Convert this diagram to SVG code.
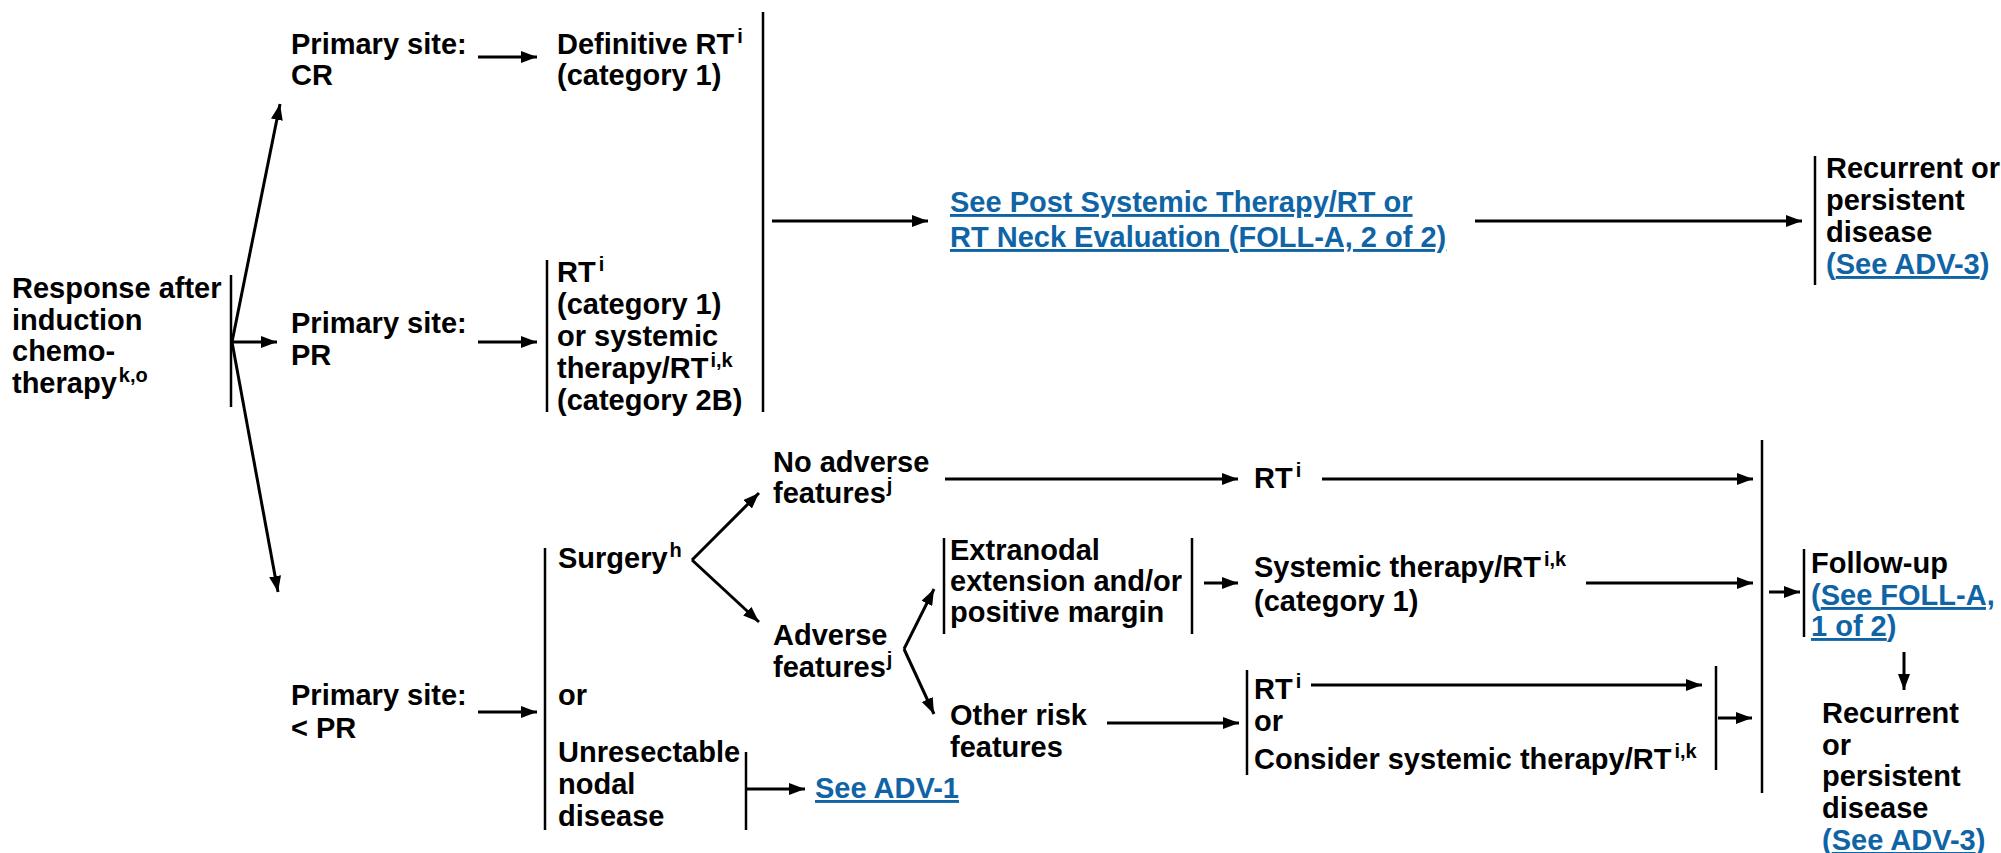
<svg xmlns="http://www.w3.org/2000/svg" width="2001" height="853" viewBox="0 0 2001 853">
  <style>
    .t { font-family: "Liberation Sans", Arial, Helvetica, sans-serif; font-weight: bold; font-size: 29px; fill: #000; }
    .lnk { fill: #0f64a6; }
    .u { text-decoration: underline; }
    .sup { font-size: 20px; }
    .bar { stroke: #000; stroke-width: 2.5; fill: none; }
    .arr { stroke: #000; stroke-width: 3; fill: none; marker-end: url(#head); }
  </style>
  <defs>
    <marker id="head" viewBox="0 0 16 12" markerWidth="16" markerHeight="12" refX="16" refY="6" orient="auto" markerUnits="userSpaceOnUse">
      <path d="M0,0 L16,6 L0,12 z" fill="#000"/>
    </marker>
  </defs>
  <rect width="2001" height="853" fill="#fff"/>

  <!-- bracket bars -->
  <g id="bars">
    <line class="bar" x1="231" y1="275" x2="231" y2="407"/>
    <line class="bar" x1="547" y1="260" x2="547" y2="412"/>
    <line class="bar" x1="763" y1="12" x2="763" y2="412"/>
    <line class="bar" x1="1815" y1="156" x2="1815" y2="285"/>
    <line class="bar" x1="545" y1="548" x2="545" y2="830"/>
    <line class="bar" x1="746" y1="752" x2="746" y2="830"/>
    <line class="bar" x1="944" y1="538" x2="944" y2="634"/>
    <line class="bar" x1="1192" y1="538" x2="1192" y2="634"/>
    <line class="bar" x1="1247" y1="670" x2="1247" y2="775"/>
    <line class="bar" x1="1716" y1="666" x2="1716" y2="770"/>
    <line class="bar" x1="1762" y1="440" x2="1762" y2="793"/>
    <line class="bar" x1="1804" y1="549" x2="1804" y2="637"/>
  </g>

  <!-- connectors -->
  <g id="connectors">
    <line class="arr" x1="232" y1="342" x2="280" y2="104"/>
    <line class="arr" x1="232" y1="342" x2="277" y2="342"/>
    <line class="arr" x1="232" y1="342" x2="278" y2="592"/>
    <line class="arr" x1="478" y1="57" x2="537" y2="57"/>
    <line class="arr" x1="478" y1="342" x2="537" y2="342"/>
    <line class="arr" x1="772" y1="221" x2="928" y2="221"/>
    <line class="arr" x1="1475" y1="221" x2="1802" y2="221"/>
    <line class="arr" x1="478" y1="712" x2="537" y2="712"/>
    <line class="arr" x1="692" y1="560" x2="759" y2="493"/>
    <line class="arr" x1="692" y1="560" x2="759" y2="622"/>
    <line class="arr" x1="945" y1="479" x2="1238" y2="479"/>
    <line class="arr" x1="1322" y1="479" x2="1753" y2="479"/>
    <line class="arr" x1="904" y1="649" x2="934" y2="589"/>
    <line class="arr" x1="904" y1="649" x2="934" y2="714"/>
    <line class="arr" x1="1204" y1="583" x2="1238" y2="583"/>
    <line class="arr" x1="1586" y1="583" x2="1753" y2="583"/>
    <line class="arr" x1="1107" y1="723" x2="1239" y2="723"/>
    <line class="arr" x1="1311" y1="685" x2="1702" y2="685"/>
    <line class="arr" x1="1718" y1="718" x2="1752" y2="718"/>
    <line class="arr" x1="1769" y1="592" x2="1800" y2="592"/>
    <line class="arr" x1="1904" y1="652" x2="1904" y2="690"/>
    <line class="arr" x1="747" y1="789" x2="805" y2="789"/>
  </g>

  <g id="response">
    <text class="t" x="12" y="298">Response after</text>
    <text class="t" x="12" y="330">induction</text>
    <text class="t" x="12" y="361">chemo-</text>
    <text class="t" x="12" y="393">therapy<tspan class="sup" dx="2" dy="-11">k,o</tspan></text>
  </g>

  <g id="cr">
    <text class="t" x="291" y="54">Primary site:</text>
    <text class="t" x="291" y="85">CR</text>
  </g>
  <g id="definitive-rt">
    <text class="t" x="557" y="54">Definitive RT<tspan class="sup" dx="3" dy="-11">i</tspan></text>
    <text class="t" x="557" y="85">(category 1)</text>
  </g>

  <g id="pr">
    <text class="t" x="291" y="333">Primary site:</text>
    <text class="t" x="291" y="365">PR</text>
  </g>
  <g id="pr-treatment">
    <text class="t" x="557" y="282">RT<tspan class="sup" dx="3" dy="-11">i</tspan></text>
    <text class="t" x="557" y="314">(category 1)</text>
    <text class="t" x="557" y="346">or systemic</text>
    <text class="t" x="557" y="378">therapy/RT<tspan class="sup" dx="2" dy="-11">i,k</tspan></text>
    <text class="t" x="557" y="410">(category 2B)</text>
  </g>

  <g id="post-eval">
    <text class="t lnk u" x="950" y="212">See Post Systemic Therapy/RT or </text>
    <text class="t lnk u" x="950" y="247">RT Neck Evaluation (FOLL-A, 2 of 2)</text>
  </g>

  <g id="recurrent-top">
    <text class="t" x="1826" y="178">Recurrent or</text>
    <text class="t" x="1826" y="210">persistent</text>
    <text class="t" x="1826" y="242">disease</text>
    <text class="t lnk" x="1826" y="274">(<tspan class="u">See ADV-3</tspan>)</text>
  </g>

  <g id="less-than-pr">
    <text class="t" x="291" y="705">Primary site:</text>
    <text class="t" x="291" y="738">&lt; PR</text>
  </g>

  <g id="options">
    <text class="t" x="558" y="568">Surgery<tspan class="sup" dx="2" dy="-11">h</tspan></text>
    <text class="t" x="558" y="705">or</text>
    <text class="t" x="558" y="762">Unresectable</text>
    <text class="t" x="558" y="794">nodal</text>
    <text class="t" x="558" y="826">disease</text>
  </g>

  <g id="adv1">
    <text class="t lnk u" x="815" y="798">See ADV-1</text>
  </g>

  <g id="no-adverse">
    <text class="t" x="773" y="472">No adverse</text>
    <text class="t" x="773" y="503">features<tspan class="sup" dx="1" dy="-11">j</tspan></text>
  </g>
  <g id="rt-no-adverse">
    <text class="t" x="1254" y="488">RT<tspan class="sup" dx="3" dy="-11">i</tspan></text>
  </g>

  <g id="adverse">
    <text class="t" x="773" y="645">Adverse</text>
    <text class="t" x="773" y="677">features<tspan class="sup" dx="1" dy="-11">j</tspan></text>
  </g>

  <g id="extranodal">
    <text class="t" x="950" y="560">Extranodal</text>
    <text class="t" x="950" y="591">extension and/or</text>
    <text class="t" x="950" y="622">positive margin</text>
  </g>
  <g id="systemic-rt">
    <text class="t" x="1254" y="577">Systemic therapy/RT<tspan class="sup" dx="3" dy="-11">i,k</tspan></text>
    <text class="t" x="1254" y="611">(category 1)</text>
  </g>

  <g id="other-risk">
    <text class="t" x="950" y="725">Other risk</text>
    <text class="t" x="950" y="757">features</text>
  </g>
  <g id="rt-or-systemic">
    <text class="t" x="1254" y="699">RT<tspan class="sup" dx="3" dy="-11">i</tspan></text>
    <text class="t" x="1254" y="731">or</text>
    <text class="t" x="1254" y="769">Consider systemic therapy/RT<tspan class="sup" dx="3" dy="-11">i,k</tspan></text>
  </g>

  <g id="follow-up">
    <text class="t" x="1811" y="573">Follow-up</text>
    <text class="t lnk" x="1811" y="605">(<tspan class="u">See FOLL-A,</tspan></text>
    <text class="t lnk" x="1811" y="636"><tspan class="u">1 of 2</tspan>)</text>
  </g>

  <g id="recurrent-bottom">
    <text class="t" x="1822" y="723">Recurrent</text>
    <text class="t" x="1822" y="755">or</text>
    <text class="t" x="1822" y="786">persistent</text>
    <text class="t" x="1822" y="818">disease</text>
    <text class="t lnk" x="1822" y="850">(<tspan class="u">See ADV-3</tspan>)</text>
  </g>
</svg>
